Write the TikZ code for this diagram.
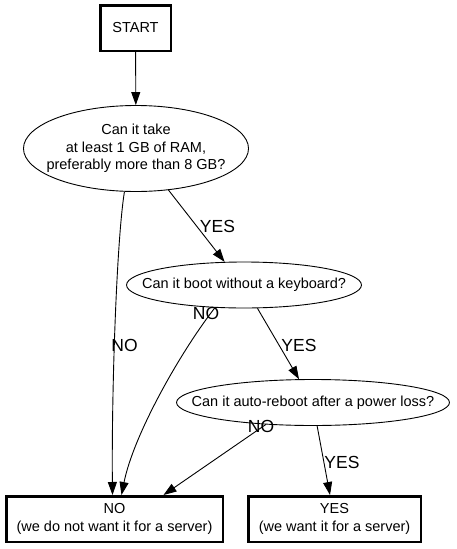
\documentclass[tikz,border=0pt]{standalone}
\usepackage{fontspec}
\setmainfont{Liberation Sans}
\usetikzlibrary{arrows.meta,shapes.geometric}

\begin{document}
\begin{tikzpicture}[x=1pt,y=-1pt,>={Triangle[length=13pt,width=9pt]},
  term/.style={draw,line width=2.5pt,align=center,font=\fontsize{14.5}{18}\selectfont,inner sep=0pt,minimum height=45.5pt},
  ask/.style={draw,ellipse,line width=.9pt,align=center,font=\fontsize{14.5}{17.5}\selectfont,inner ysep=0pt},
  flow/.style={->,line width=.9pt},
  tag/.style={font=\fontsize{17.5}{20}\selectfont,inner sep=0pt}]
\useasboundingbox (0,0) rectangle (457,549);
\node[term,minimum width=70.5pt] (start) at (135.5,28) {START};
\node[ask,inner xsep=-9.9pt,minimum height=86pt] (ram) at (136,148.5) {Can it take\\at least 1 GB of RAM,\\preferably more than 8 GB?};
\node[ask,inner xsep=-18.9pt,minimum height=46pt] (kbd) at (244,285) {Can it boot without a keyboard?};
\node[ask,inner xsep=-24.8pt,minimum height=46pt] (pwr) at (313,402.5) {Can it auto-reboot after a power loss?};
\node[term,minimum width=216.5pt] (no) at (114.5,519) {NO\\(we do not want it for a server)};
\node[term,minimum width=172.5pt] (yes) at (334.5,519) {YES\\(we want it for a server)};
\draw[flow] (start) -- (ram);
\draw[flow] (ram.255) .. controls +(-8,50) and +(-1,-100) .. ([xshift=-2pt]no.north);
\draw[flow] (ram.-52) -- (kbd.130);
\draw[flow] (kbd.218) .. controls +(-35,45) and +(12,-60) .. ([xshift=7pt]no.north);
\draw[flow] (kbd.-60) -- (pwr.121);
\draw[flow] (pwr.205) -- ([xshift=49pt]no.north);
\draw[flow] (pwr.-80) -- ([xshift=-4.5pt]yes.north);
\node[tag] (ramno) at (124.5,345) {NO};
\node[tag] (ramyes) at (217.5,226) {YES};
\node[tag] (kbdno) at (206,313) {NO};
\node[tag] (kbdyes) at (299,345) {YES};
\node[tag] (pwrno) at (261,426) {NO};
\node[tag] (pwryes) at (342,462) {YES};
\end{tikzpicture}
\end{document}
